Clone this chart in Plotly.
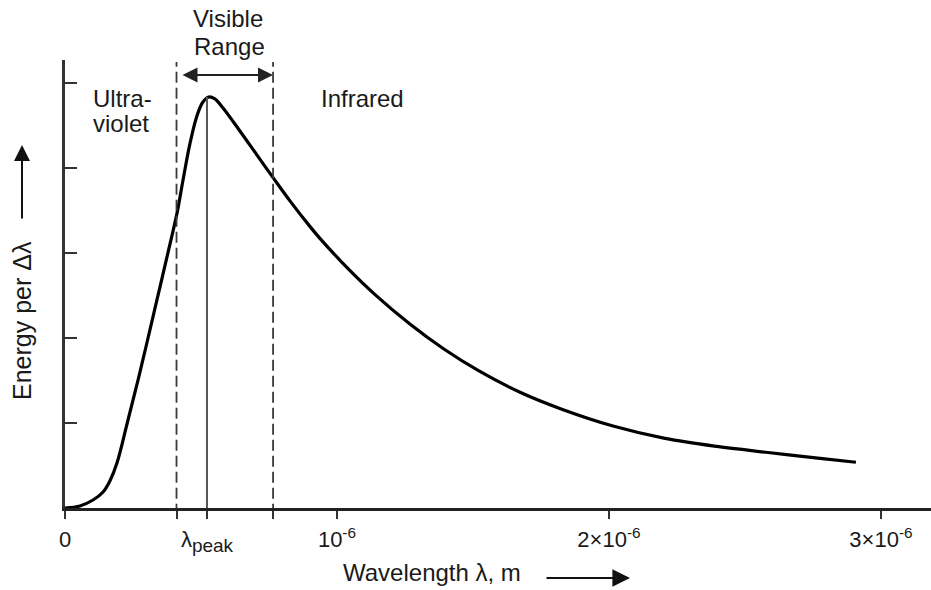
import plotly.graph_objects as go

# Wavelength in micrometres (tick text shows metres)
wavelength_um = [0.0, 0.055, 0.103, 0.140, 0.165, 0.191, 0.228, 0.265, 0.301, 0.338,
                 0.375, 0.412, 0.434, 0.460, 0.485, 0.507, 0.529, 0.551, 0.581, 0.643,
                 0.706, 0.765, 0.827, 0.901, 0.938, 1.037, 1.140, 1.268, 1.393, 1.522,
                 1.673, 1.824, 2.015, 2.206, 2.397, 2.585, 2.776, 2.908]
energy = [0.0, 0.024, 0.094, 0.188, 0.318, 0.529, 0.988, 1.459, 1.941, 2.447,
          2.953, 3.471, 3.859, 4.294, 4.612, 4.776, 4.835, 4.812, 4.706, 4.435,
          4.151, 3.886, 3.613, 3.310, 3.169, 2.828, 2.510, 2.164, 1.870, 1.612,
          1.361, 1.165, 0.964, 0.819, 0.724, 0.653, 0.584, 0.538]

visible_min = 0.41
visible_max = 0.765
lambda_peak = 0.522
peak_energy = 4.835

x_tickvals = [0, visible_min, lambda_peak, visible_max, 1, 2, 3]
x_ticktext = ["0", "", "λ<sub><span style='font-size:19px'>peak</span></sub>", "",
              "10<sup>-6</sup>", "2×10<sup>-6</sup>", "3×10<sup>-6</sup>"]
y_tickvals = [1, 2, 3, 4, 5]

X_MAX = 3.184
Y_MAX = 5.27
FONT = "Liberation Sans, Arial, sans-serif"
INK = "#1a1a1a"

# plot area in pixels: left 65, right 931, top 60, bottom 508
def px(xp):
    return (xp - 65) / 866.0

def py(yp):
    return (508 - yp) / 448.0

fig = go.Figure()

fig.add_trace(go.Scatter(x=wavelength_um, y=energy, mode="lines",
                         line=dict(color="#000000", width=3.2, shape="spline", smoothing=1.0),
                         hoverinfo="skip", showlegend=False))

for xv in (visible_min, visible_max):
    fig.add_shape(type="line", x0=xv, x1=xv, y0=-0.08, y1=(508 - 62) / 85, xref="x", yref="y",
                  line=dict(color="#3a3a3a", width=1.8, dash="11px,5px"))
fig.add_shape(type="line", x0=lambda_peak, x1=lambda_peak, y0=-0.08, y1=peak_energy,
              xref="x", yref="y", line=dict(color="#555555", width=2))

def label(text, xp, yp, size=24, xanchor="center", angle=0):
    return dict(x=px(xp), y=py(yp), xref="paper", yref="paper", text=text, showarrow=False,
                xanchor=xanchor, yanchor="middle", textangle=angle,
                font=dict(size=size, color=INK, family=FONT))

annotations = [
    label("Visible", 228, 19),
    label("Range", 229, 46),
    label("Ultra-", 91, 98, xanchor="left"),
    label("violet", 91, 123, xanchor="left"),
    label("Infrared", 362, 99),
    label("Wavelength λ, m", 432, 572),
    label("Energy per Δλ", 22, 321, size=25, angle=-90),
]

# Visible range double arrow
annotations.append(dict(x=px(273), y=py(75), ax=-92, ay=0,
                        xref="paper", yref="paper",
                        text="", showarrow=True, arrowhead=2, startarrowhead=2,
                        arrowside="end+start", arrowsize=1.5, startarrowsize=1.5,
                        arrowwidth=2, arrowcolor="#222222"))
# x-axis direction arrow
annotations.append(dict(x=px(630), y=py(578), ax=-85, ay=0, xref="paper", yref="paper",
                        text="", showarrow=True, arrowhead=2, arrowsize=1.6,
                        arrowwidth=2.2, arrowcolor="#111111"))
# y-axis direction arrow
annotations.append(dict(x=px(22), y=py(145), ax=0, ay=75, xref="paper", yref="paper",
                        text="", showarrow=True, arrowhead=2, arrowsize=1.6,
                        arrowwidth=2, arrowcolor="#111111"))

fig.update_layout(
    width=931, height=590,
    margin=dict(l=65, r=0, t=60, b=82),
    paper_bgcolor="white", plot_bgcolor="white",
    font=dict(family=FONT, color=INK, size=22),
    annotations=annotations,
    xaxis=dict(range=[0, X_MAX], tickvals=x_tickvals, ticktext=x_ticktext,
               showgrid=False, zeroline=False, showline=True, linecolor="#222222", linewidth=2.5,
               ticks="outside", ticklen=8, tickwidth=1.5, tickcolor="#333333",
               ticklabelstandoff=2,
               tickfont=dict(size=22, color=INK, family=FONT)),
    yaxis=dict(range=[0, Y_MAX], tickvals=y_tickvals, showticklabels=False,
               showgrid=False, zeroline=False, showline=True, linecolor="#333333", linewidth=2.5,
               ticks="inside", ticklen=12, tickwidth=1.5, tickcolor="#333333"),
    showlegend=False,
)

fig.write_html("out.html")
